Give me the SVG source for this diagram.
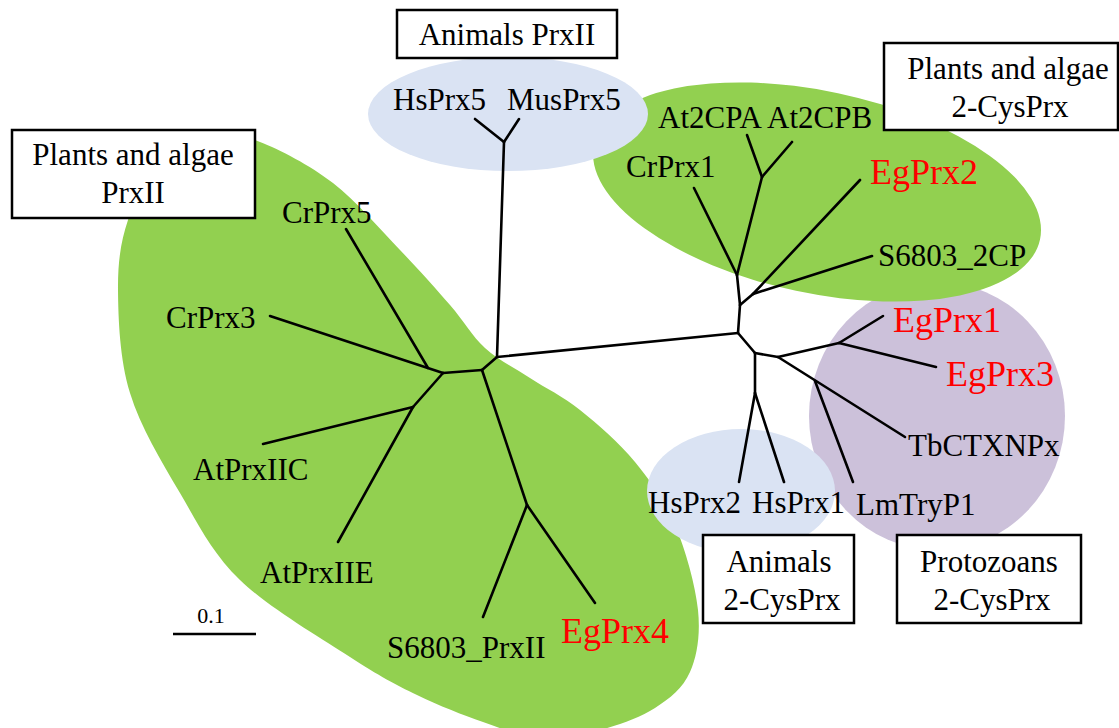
<svg xmlns="http://www.w3.org/2000/svg" width="1119" height="728" viewBox="0 0 1119 728">
<style>
.t{font-family:"Liberation Serif","Times New Roman",serif;font-size:31px;fill:#000}
.r{font-family:"Liberation Serif","Times New Roman",serif;font-size:36px;fill:#ff0000}
.c{text-anchor:middle}
.br{fill:#000;stroke:none}
.box{fill:#fff;stroke:#000;stroke-width:2.5}
#tree line{stroke:#000;stroke-width:2.6;stroke-linecap:round}
</style>
<rect width="1119" height="728" fill="#fff"/>
<g id="clades">
<ellipse id="protozoa-bg" cx="937" cy="416" rx="128" ry="134" fill="#ccc1da"/>
<ellipse id="plants2cys-bg" cx="817" cy="192" rx="228" ry="101" transform="rotate(12 817 192)" fill="#92d050"/>
<path id="plantsprxii-bg" fill="#92d050" d="M215,137 C231.7,133.2 240.3,134.3 260,142 C279.7,149.7 309.7,165 333,183 C356.3,201 380.5,229.7 400,250 C419.5,270.3 435.8,288.7 450,305 C464.2,321.3 471.7,335.8 485,348 C498.3,360.2 514.2,367.7 530,378 C545.8,388.3 562.5,396 580,410 C597.5,424 619.2,442.8 635,462 C650.8,481.2 664.5,500.3 675,525 C685.5,549.7 695.5,585.5 698,610 C700.5,634.5 697.2,655.7 690,672 C682.8,688.3 670,698.3 655,708 C640,717.7 619.2,725 600,730 C580.8,735 559.5,739.3 540,738 C520.5,736.7 503.5,729.2 483,722 C462.5,714.8 439.2,705.8 417,695 C394.8,684.2 379.5,676.2 350,657 C320.5,637.8 268.3,607.3 240,580 C211.7,552.7 198.3,524.2 180,493 C161.7,461.8 140.3,426.8 130,393 C119.7,359.2 118.3,318.8 118,290 C117.7,261.2 121,240.8 128,220 C135,199.2 145.5,178.8 160,165 C174.5,151.2 198.3,140.8 215,137 Z"/>
<ellipse id="animalsprxii-bg" cx="508" cy="114" rx="140" ry="57" fill="#dae3f3"/>
<ellipse id="animals2cys-bg" cx="741" cy="491" rx="94" ry="62" fill="#dae3f3"/>
</g>
<g id="tree">
<line x1="504" y1="142" x2="475" y2="119"/>
<line x1="504" y1="142" x2="519" y2="119"/>
<line x1="504" y1="142" x2="497" y2="357"/>
<line x1="497" y1="357" x2="738" y2="333"/>
<line x1="497" y1="357" x2="482" y2="370"/>
<line x1="482" y1="370" x2="443" y2="373"/>
<line x1="443" y1="373" x2="270" y2="316"/>
<line x1="428" y1="368" x2="346" y2="229"/>
<line x1="443" y1="373" x2="413" y2="407"/>
<line x1="413" y1="407" x2="263" y2="444"/>
<line x1="413" y1="407" x2="338" y2="542"/>
<line x1="482" y1="370" x2="527" y2="505"/>
<line x1="527" y1="505" x2="483" y2="617"/>
<line x1="527" y1="505" x2="595" y2="603"/>
<line x1="738" y1="333" x2="740" y2="305"/>
<line x1="740" y1="305" x2="753" y2="294"/>
<line x1="740" y1="305" x2="737" y2="275"/>
<line x1="737" y1="275" x2="694" y2="188"/>
<line x1="737" y1="275" x2="762" y2="177"/>
<line x1="762" y1="177" x2="747" y2="135"/>
<line x1="762" y1="177" x2="792" y2="142"/>
<line x1="753" y1="294" x2="860" y2="180"/>
<line x1="753" y1="294" x2="872" y2="256"/>
<line x1="738" y1="333" x2="755" y2="353"/>
<line x1="755" y1="353" x2="778" y2="357"/>
<line x1="755" y1="353" x2="755" y2="393"/>
<line x1="755" y1="393" x2="739" y2="482"/>
<line x1="755" y1="393" x2="784" y2="482"/>
<line x1="778" y1="357" x2="839" y2="343"/>
<line x1="839" y1="343" x2="883" y2="316"/>
<line x1="839" y1="343" x2="936" y2="367"/>
<line x1="778" y1="357" x2="905" y2="437"/>
<line x1="815" y1="381" x2="853" y2="482"/>
</g>
<g id="leaves">
<text class="t" x="393" y="110">HsPrx5</text>
<text class="t" x="507" y="110">MusPrx5</text>
<text class="t" x="658" y="128">At2CPA</text>
<text class="t" x="767" y="128">At2CPB</text>
<text class="t" x="626" y="177">CrPrx1</text>
<text class="r" x="870" y="184">EgPrx2</text>
<text class="t" x="878" y="266">S6803_2CP</text>
<text class="t" x="282" y="223">CrPrx5</text>
<text class="t" x="166" y="328">CrPrx3</text>
<text class="t" x="193" y="480">AtPrxIIC</text>
<text class="t" x="260" y="583">AtPrxIIE</text>
<text class="t" x="387" y="658">S6803_PrxII</text>
<text class="r" x="561" y="643">EgPrx4</text>
<text class="t" x="648" y="513">HsPrx2</text>
<text class="t" x="752" y="513">HsPrx1</text>
<text class="t" x="856" y="515">LmTryP1</text>
<text class="t" x="908" y="456">TbCTXNPx</text>
<text class="r" x="893" y="332">EgPrx1</text>
<text class="r" x="946" y="386">EgPrx3</text>
</g>
<g id="scale">
<line x1="173" y1="634" x2="256" y2="634" stroke="#000" stroke-width="2.5"/>
<text x="211" y="623" text-anchor="middle" style="font-family:'Liberation Serif',serif;font-size:22px">0.1</text>
</g>
<g id="box-animals-prxii">
<rect class="box" x="397" y="10" width="220" height="48"/>
<text class="t c" x="507" y="45">Animals PrxII</text>
</g>
<g id="box-plants-prxii">
<rect class="box" x="12" y="130" width="243" height="88"/>
<text class="t c" x="133" y="165">Plants and algae</text>
<text class="t c" x="133" y="203">PrxII</text>
</g>
<g id="box-plants-2cys">
<rect class="box" x="884" y="43" width="234" height="87"/>
<text class="t c" x="1008" y="79">Plants and algae</text>
<text class="t c" x="1010" y="117">2-CysPrx</text>
</g>
<g id="box-animals-2cys">
<rect class="box" x="703" y="535" width="151" height="88"/>
<text class="t c" x="779" y="572">Animals</text>
<text class="t c" x="782" y="610">2-CysPrx</text>
</g>
<g id="box-protozoa-2cys">
<rect class="box" x="897" y="535" width="184" height="88"/>
<text class="t c" x="989" y="572">Protozoans</text>
<text class="t c" x="992" y="610">2-CysPrx</text>
</g>
</svg>
